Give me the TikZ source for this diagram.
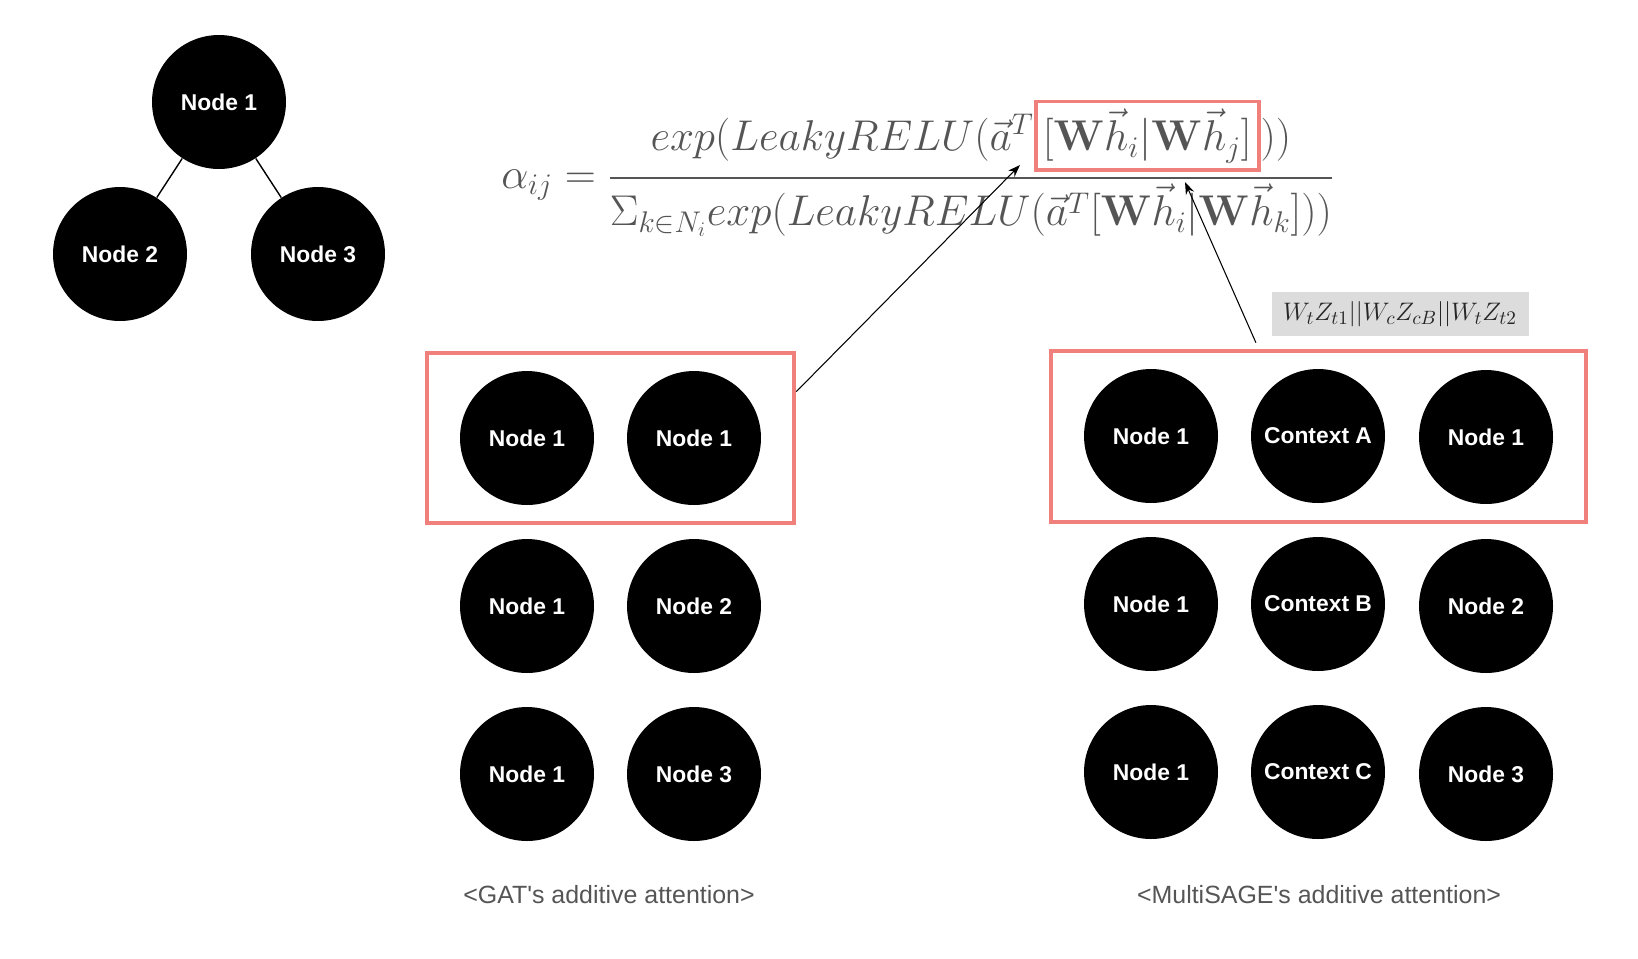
\documentclass[tikz,border=0pt]{standalone}
\usepackage{amsmath, amssymb}
\usepackage{graphicx}
\usepackage[no-math]{fontspec}
\setmainfont{Liberation Sans}
\usetikzlibrary{arrows.meta, fit, calc}

\definecolor{hlred}{RGB}{240,128,124}
\definecolor{txtgray}{RGB}{85,85,85}
\definecolor{tagbg}{RGB}{220,220,220}

% red frame around a piece of the formula
\newcommand{\hlpart}[1]{\mbox{\color{hlred}\setlength{\fboxrule}{2.2pt}%
  \setlength{\fboxsep}{3pt}\fbox{\color{txtgray}$#1$}}}

\begin{document}
\begin{tikzpicture}[
  x=0.02cm, y=-0.02cm,
  nd/.style={circle, fill=black, minimum size=2.68cm, inner sep=0pt,
             text=white, font=\fontsize{13}{15}\selectfont\bfseries},
  hl/.style={draw=hlred, line width=2.2pt, inner xsep=0.66cm, inner ysep=0.36cm},
  captxt/.style={text=txtgray, font=\fontsize{14.2}{16}\selectfont},
  lk/.style={draw, line width=0.8pt},
  arr/.style={-{Stealth[length=7pt, width=5pt]}, line width=0.6pt}
]
  \useasboundingbox (0,0) rectangle (1638,958);

  % small graph
  \node[nd] (T1) at (219,102) {Node 1};
  \node[nd] (T2) at (120,254) {Node 2};
  \node[nd] (T3) at (318,254) {Node 3};
  \draw[lk] (T1) -- (T2);
  \draw[lk] (T1) -- (T3);

  % formula
  \node[text=txtgray, font=\fontsize{24.2}{28}\selectfont, anchor=base west, inner sep=0pt]
    (alpha) at (501,188.5)
    {\scalebox{0.985}{$\alpha_{ij} = \dfrac{exp(LeakyRELU(\vec{a}^T\hlpart{[\mathbf{W}\vec{h}_i|\mathbf{W}\vec{h}_j]}))}
      {\Sigma_{k\in N_i}exp(LeakyRELU(\vec{a}^T[\mathbf{W}\vec{h}_i|\mathbf{W}\vec{h}_k]))}$}};

  % GAT pairs
  \node[nd] (G11) at (527,438) {Node 1};
  \node[nd] (G12) at (694,438) {Node 1};
  \node[nd] (G21) at (527,606) {Node 1};
  \node[nd] (G22) at (694,606) {Node 2};
  \node[nd] (G31) at (527,774) {Node 1};
  \node[nd] (G32) at (694,774) {Node 3};
  \node[hl, fit=(G11)(G12)] (gatbox) {};

  % MultiSAGE triples
  \node[nd] (M11) at (1151,436) {Node 1};
  \node[nd] (M12) at (1318,436) {Context A};
  \node[nd] (M13) at (1486,437) {Node 1};
  \node[nd] (M21) at (1151,604) {Node 1};
  \node[nd] (M22) at (1318,604) {Context B};
  \node[nd] (M23) at (1486,606) {Node 2};
  \node[nd] (M31) at (1151,772) {Node 1};
  \node[nd] (M32) at (1318,772) {Context C};
  \node[nd] (M33) at (1486,774) {Node 3};
  \node[hl, fit=(M11)(M13)] (sagebox) {};

  \node[fill=tagbg, text=black!85, font=\fontsize{15.2}{17}\selectfont,
        minimum width=5.14cm, minimum height=0.88cm] (tag) at (1400,314)
    {$W_tZ_{t1}||W_cZ_{cB}||W_tZ_{t2}$};

  % arrows into the formula
  \coordinate (tipA) at (1020,165);
  \coordinate (tipB) at (1185,182);
  \draw[arr] (gatbox.14) -- (tipA);
  \draw[arr] ($(sagebox.north west)!0.384!(sagebox.north east)+(0,-6)$) -- (tipB);

  % captions
  \node[captxt] (capG) at (609,895) {<GAT\textquotesingle s additive attention>};
  \node[captxt] (capM) at (1319,895) {<MultiSAGE\textquotesingle s additive attention>};
\end{tikzpicture}
\end{document}
